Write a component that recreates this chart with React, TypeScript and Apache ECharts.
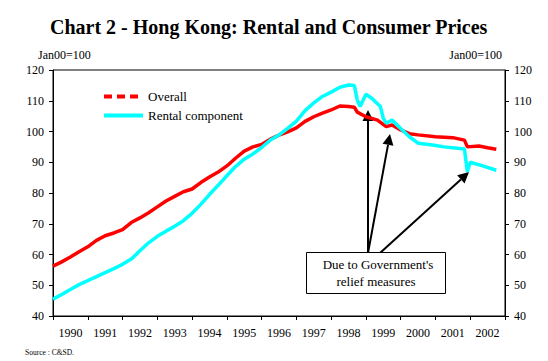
import React, { useEffect, useRef } from 'react';
import * as echarts from 'echarts';

const yearLabels = ['1990', '1991', '1992', '1993', '1994', '1995', '1996', '1997', '1998', '1999', '2000', '2001', '2002'];

const overallMonths = [
  '1990-01', '1990-04', '1990-07', '1990-10', '1991-01', '1991-04', '1991-07', '1991-10',
  '1992-01', '1992-04', '1992-07', '1992-10', '1993-01', '1993-04', '1993-07', '1993-10',
  '1994-01', '1994-04', '1994-07', '1994-10', '1995-01', '1995-04', '1995-07', '1995-10',
  '1996-01', '1996-04', '1996-07', '1996-10', '1997-01', '1997-04', '1997-07', '1997-10',
  '1998-01', '1998-04', '1998-07', '1998-09', '1998-10', '1999-01', '1999-05', '1999-08',
  '1999-10', '2000-01', '2000-04', '2000-07', '2001-01', '2001-07', '2001-11', '2001-12',
  '2002-04', '2002-07', '2002-10',
];
const overallValues = [
  56.2, 57.6, 59.2, 60.9, 62.5, 64.6, 66.1, 67.0,
  68.1, 70.4, 71.9, 73.6, 75.5, 77.4, 78.9, 80.4,
  81.3, 83.4, 85.2, 86.8, 88.8, 91.3, 93.6, 95.0,
  95.8, 97.5, 98.8, 99.9, 101.2, 103.3, 104.8, 106.0,
  107.0, 108.3, 108.1, 107.9, 106.3, 104.8, 103.7, 101.6,
  102.1, 100.5, 99.3, 98.9, 98.3, 98.0, 97.2, 95.0,
  95.3, 94.7, 94.2,
];

const rentalMonths = [
  '1990-01', '1990-04', '1990-07', '1990-10', '1991-01', '1991-04', '1991-07', '1991-10',
  '1992-01', '1992-04', '1992-07', '1992-10', '1993-01', '1993-04', '1993-07', '1993-10',
  '1994-01', '1994-04', '1994-07', '1994-10', '1995-01', '1995-04', '1995-07', '1995-10',
  '1996-01', '1996-04', '1996-07', '1996-10', '1997-01', '1997-04', '1997-07', '1997-10',
  '1998-01', '1998-04', '1998-07', '1998-09', '1998-10', '1998-11', '1999-01', '1999-03',
  '1999-06', '1999-07', '1999-08', '1999-10', '2000-01', '2000-04', '2000-07', '2000-12',
  '2001-04', '2001-11', '2001-12', '2002-01', '2002-05', '2002-10',
];
const rentalValues = [
  45.5, 47.0, 48.6, 50.2, 51.5, 52.8, 54.1, 55.4,
  56.8, 58.5, 61.2, 63.8, 65.9, 67.6, 69.2, 71.0,
  73.4, 76.3, 79.5, 82.5, 85.6, 88.6, 91.0, 92.7,
  94.8, 97.2, 98.9, 101.0, 103.4, 106.8, 109.3, 111.4,
  112.8, 114.4, 115.1, 115.0, 110.3, 108.1, 112.1, 110.8,
  108.1, 104.3, 102.7, 103.7, 101.0, 98.3, 96.2, 95.6,
  95.0, 94.3, 86.9, 90.0, 88.9, 87.4,
];

const Y_MIN = 40;
const Y_MAX = 120;
const Y_STEP = 10;

const FONT = 'Liberation Serif';

function toPairs(months: string[], values: number[]) {
  return months.map((m, i) => {
    const [y, mo] = m.split('-').map(Number);
    return [y + (mo - 1) / 12, values[i]];
  });
}

function arrow(x1: number, y1: number, x2: number, y2: number, headLen = 11, headHalf = 5.5) {
  const dx = x2 - x1;
  const dy = y2 - y1;
  const L = Math.hypot(dx, dy);
  const ux = dx / L;
  const uy = dy / L;
  const bx = x2 - ux * headLen;
  const by = y2 - uy * headLen;
  const px = -uy;
  const py = ux;
  return [
    { type: 'line', shape: { x1, y1, x2: bx, y2: by }, style: { stroke: '#000', lineWidth: 2 } },
    {
      type: 'polygon',
      shape: { points: [[x2, y2], [bx + px * headHalf, by + py * headHalf], [bx - px * headHalf, by - py * headHalf]] },
      style: { fill: '#000' },
    },
  ];
}

export default function App() {
  const ref = useRef<HTMLDivElement>(null);

  useEffect(() => {
    if (!ref.current) return;
    const chart = echarts.init(ref.current, null, { renderer: 'svg' });
    const axisText = { color: '#000', fontFamily: FONT, fontSize: 12 };
    const yAxisCommon = {
      type: 'value',
      min: Y_MIN,
      max: Y_MAX,
      interval: Y_STEP,
      splitLine: { show: false },
      axisLine: { show: true, lineStyle: { color: '#000', width: 1 } },
      axisTick: { show: true, length: 4, lineStyle: { color: '#000' } },
      axisLabel: { ...axisText, margin: 9 },
    };
    chart.setOption({
      animation: false,
      backgroundColor: '#fff',
      textStyle: { fontFamily: FONT },
      title: {
        text: 'Chart 2 - Hong Kong: Rental and Consumer Prices',
        left: 45,
        top: 12,
        textStyle: { fontFamily: FONT, fontSize: 20, fontWeight: 'bold', color: '#000' },
      },
      legend: {
        orient: 'vertical',
        left: 102,
        top: 90,
        padding: 0,
        itemWidth: 39,
        itemHeight: 14,
        itemGap: 6,
        itemStyle: { opacity: 0 },
        textStyle: { fontFamily: FONT, fontSize: 13, color: '#000' },
        data: [
          { name: 'Overall', lineStyle: { type: [8, 5], width: 4 } },
          { name: 'Rental component', lineStyle: { width: 4 } },
        ],
      },
      grid: {
        left: 53,
        right: 43,
        top: 70,
        bottom: 45,
        show: true,
        borderColor: '#000',
        borderWidth: 1,
      },
      xAxis: [
        {
          type: 'value',
          min: 1990,
          max: 2003,
          position: 'bottom',
          show: false,
        },
        {
          type: 'category',
          data: yearLabels,
          position: 'bottom',
          boundaryGap: true,
          axisLine: { show: true, lineStyle: { color: '#000', width: 1 } },
          axisTick: { show: true, length: 4, interval: 0, lineStyle: { color: '#000' } },
          axisLabel: { ...axisText, margin: 11, interval: 0 },
          splitLine: { show: false },
        },
      ],
      yAxis: [
        { ...yAxisCommon, position: 'left' },
        { ...yAxisCommon, position: 'right' },
      ],
      series: [
        {
          name: 'Overall',
          type: 'line',
          xAxisIndex: 0,
          yAxisIndex: 0,
          showSymbol: false,
          symbol: 'none',
          data: toPairs(overallMonths, overallValues),
          lineStyle: { color: '#ff0000', width: 3.5 },
          itemStyle: { color: '#ff0000' },
        },
        {
          name: 'Rental component',
          type: 'line',
          xAxisIndex: 0,
          yAxisIndex: 0,
          showSymbol: false,
          symbol: 'none',
          data: toPairs(rentalMonths, rentalValues),
          lineStyle: { color: '#00ffff', width: 3.5 },
          itemStyle: { color: '#00ffff' },
        },
      ],
      graphic: [
        {
          type: 'text',
          left: 38,
          top: 49,
          style: { text: 'Jan00=100', fontFamily: FONT, fontSize: 12, fill: '#000' },
        },
        {
          type: 'text',
          right: 46,
          top: 49,
          style: { text: 'Jan00=100', fontFamily: FONT, fontSize: 12, fill: '#000' },
        },
        {
          type: 'text',
          left: 25,
          top: 348,
          style: { text: 'Source : C&SD.', fontFamily: FONT, fontSize: 7.5, fill: '#000' },
        },
        ...arrow(368, 253, 368, 110),
        ...arrow(368, 253, 390, 134),
        ...arrow(380, 253, 469, 172),
        {
          type: 'rect',
          shape: { x: 306.5, y: 252.5, width: 139, height: 41 },
          style: { fill: '#fff', stroke: '#000', lineWidth: 1 },
        },
        {
          type: 'text',
          x: 378,
          y: 264,
          style: {
            text: "Due to Government's",
            fontFamily: FONT,
            fontSize: 13,
            fill: '#000',
            textAlign: 'center',
            textVerticalAlign: 'middle',
          },
        },
        {
          type: 'text',
          x: 376,
          y: 281,
          style: {
            text: 'relief measures',
            fontFamily: FONT,
            fontSize: 13,
            fill: '#000',
            textAlign: 'center',
            textVerticalAlign: 'middle',
          },
        },
      ],
    });
    return () => chart.dispose();
  }, []);

  return (
    <div
      ref={ref}
      style={{ position: 'fixed', left: 0, top: 0, width: 548, height: 361, background: '#fff' }}
    />
  );
}
